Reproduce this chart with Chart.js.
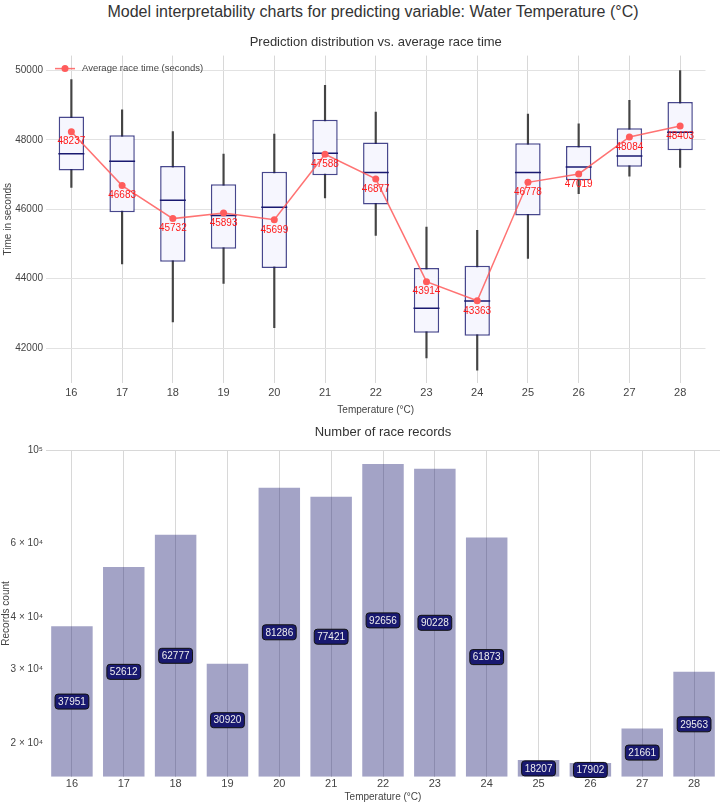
<!DOCTYPE html>
<html><head><meta charset="utf-8">
<script src="https://cdn.jsdelivr.net/npm/chart.js@4.4.1/dist/chart.umd.min.js"></script>
<style>
html,body{margin:0;padding:0;background:#fff;width:720px;height:803px;overflow:hidden;font-family:"Liberation Sans",Arial,sans-serif}
#title{position:absolute;left:0;top:2px;width:746px;text-align:center;font-size:16px;color:#333;line-height:20px}
#c1wrap{position:absolute;left:0;top:22px;width:720px;height:394px}
#c2wrap{position:absolute;left:0;top:410px;width:720px;height:393px}
</style></head><body>
<div id="title">Model interpretability charts for predicting variable: Water Temperature (°C)</div>
<div id="c1wrap"><canvas id="c1"></canvas></div>
<div id="c2wrap"><canvas id="c2"></canvas></div>
<script>
const categories = ['16','17','18','19','20','21','22','23','24','25','26','27','28'];
const whiskerLow  = [46628,44425,42752,43863,42588,46327,45246,41717,41361,44588,46454,46956,47208];
const q1          = [47121,45912,44492,44860,44309,46985,46136,42442,42355,45825,46840,47226,47701];
const median      = [47603,47382,46260,45825,46057,47614,47063,43149,43361,47063,47217,47536,48223];
const q3          = [48675,48135,47246,46724,47081,48580,47922,44309,44376,47904,47826,48339,49093];
const whiskerHigh = [49739,48869,48241,47594,48165,49575,48802,45486,45391,48745,48464,49140,50000];
const meanTime    = [48237,46683,45732,45893,45699,47588,46877,43914,43363,46778,47019,48084,48403];
const recordCounts = [37951,52612,62777,30920,81286,77421,92656,90228,61873,18207,17902,21661,29563];
const timeTicks = [42000,44000,46000,48000,50000];
const countTicks = [20000,30000,40000,60000,100000];
const countTickLabels = ['2 × 10⁴','3 × 10⁴','4 × 10⁴','6 × 10⁴','10⁵'];

const FONT = "'Liberation Sans', Arial, sans-serif";
Chart.defaults.font.family = FONT;
Chart.defaults.color = '#444';

const meanLabelPlugin = {
  id:'meanLabels',
  afterDatasetsDraw(chart){
    const idx = chart.data.datasets.findIndex(d=>d.label==='Average race time (seconds)');
    const meta = chart.getDatasetMeta(idx);
    const ctx = chart.ctx;
    ctx.save();
    ctx.font = '10px ' + FONT;
    ctx.fillStyle = '#ff1a1a';
    ctx.textAlign = 'center';
    ctx.textBaseline = 'middle';
    meta.data.forEach((pt,i)=>{
      ctx.fillText(String(chart.data.datasets[idx].data[i]), pt.x, pt.y + 10);
    });
    ctx.restore();
  },
  afterDraw(chart){
    const ca = chart.chartArea, ctx = chart.ctx;
    const y = ca.top + 13, x0 = ca.left + 9;
    ctx.save();
    ctx.strokeStyle = 'rgba(255,90,90,0.85)';
    ctx.lineWidth = 1.5;
    ctx.beginPath(); ctx.moveTo(x0, y); ctx.lineTo(x0 + 20, y); ctx.stroke();
    ctx.fillStyle = '#ff5c5c';
    ctx.beginPath(); ctx.arc(x0 + 10, y, 3.5, 0, Math.PI*2); ctx.fill();
    ctx.fillStyle = '#444';
    ctx.font = '9.5px ' + FONT;
    ctx.textBaseline = 'middle';
    ctx.fillText('Average race time (seconds)', x0 + 27, y);
    ctx.restore();
  }
};

const barLabelPlugin = {
  id:'barLabels',
  afterDatasetsDraw(chart){
    const meta = chart.getDatasetMeta(0);
    const ctx = chart.ctx;
    ctx.save();
    ctx.font = '10px ' + FONT;
    ctx.textAlign = 'center';
    ctx.textBaseline = 'middle';
    meta.data.forEach((bar,i)=>{
      const txt = String(chart.data.datasets[0].data[i]);
      const cx = bar.x, cy = (bar.y + bar.base)/2;
      const w = ctx.measureText(txt).width + 6, h = 15;
      ctx.beginPath();
      ctx.roundRect(cx - w/2, cy - h/2, w, h, 3);
      ctx.fillStyle = '#191970';
      ctx.fill();
      ctx.strokeStyle = '#111';
      ctx.lineWidth = 1;
      ctx.stroke();
      ctx.fillStyle = '#eeeeee';
      ctx.fillText(txt, cx, cy + 0.5);
    });
    ctx.restore();
  }
};

new Chart(document.getElementById('c1'), {
  type:'bar',
  data:{
    labels:categories,
    datasets:[
      {type:'bar', label:'whisker', data:categories.map((_,i)=>[whiskerLow[i], whiskerHigh[i]]),
        backgroundColor:'#444', barThickness:1.5, grouped:false, order:4},
      {type:'bar', label:'box', data:categories.map((_,i)=>[q1[i], q3[i]]),
        backgroundColor:'#f6f6fe', borderColor:'rgba(25,25,112,0.8)', borderWidth:1.5, borderSkipped:false,
        barPercentage:0.5, categoryPercentage:1, grouped:false, order:3},
      {type:'line', label:'median', data:median, showLine:false, pointStyle:'line', pointRadius:13,
        pointBorderColor:'#191970', pointBorderWidth:1.5, order:2},
      {type:'line', label:'Average race time (seconds)', data:meanTime, borderColor:'rgba(255,90,90,0.85)',
        borderWidth:1.5, pointRadius:3.5, pointBackgroundColor:'#ff5c5c', pointBorderColor:'#ff5c5c', pointBorderWidth:0, order:1}
    ]
  },
  options:{
    responsive:true, maintainAspectRatio:false, animation:false,
    layout:{padding:0},
    plugins:{
      legend:{display:false}, tooltip:{enabled:false},
      title:{display:true, text:'Prediction distribution vs. average race time', fullSize:false,
        font:{size:13, weight:'normal'}, color:'#333', padding:{top:13, bottom:5}}
    },
    scales:{
      x:{offset:true, grid:{offset:false, color:'#d8d8d8', drawTicks:false}, border:{display:false},
        ticks:{padding:4, font:{size:11}, color:'#444'},
        title:{display:true, text:'Temperature (°C)', font:{size:10}, color:'#444', padding:{top:0, bottom:0}}},
      y:{min:41000, max:50430,
        afterBuildTicks:s=>{ s.ticks = timeTicks.map(v=>({value:v})); },
        afterFit:s=>{ s.width = 46; },
        grid:{color:'#e2e2e2', drawTicks:false}, border:{display:false},
        ticks:{padding:3, font:{size:10}, color:'#444', callback:v=>String(v)},
        title:{display:true, text:'Time in seconds', font:{size:10}, color:'#444', padding:{top:2, bottom:0}}}
    }
  },
  plugins:[meanLabelPlugin]
});

new Chart(document.getElementById('c2'), {
  type:'bar',
  data:{
    labels:categories,
    datasets:[{label:'Records count', data:recordCounts, backgroundColor:'rgba(25,25,112,0.4)',
      barPercentage:0.8, categoryPercentage:1}]
  },
  options:{
    responsive:true, maintainAspectRatio:false, animation:false,
    layout:{padding:0},
    plugins:{
      legend:{display:false}, tooltip:{enabled:false},
      title:{display:true, text:'Number of race records', fullSize:false,
        font:{size:13, weight:'normal'}, color:'#333', padding:{top:15, bottom:9.5}}
    },
    scales:{
      x:{offset:true, grid:{offset:false, color:'#d8d8d8', drawTicks:false}, border:{display:false},
        ticks:{padding:1, font:{size:11}, color:'#444'},
        title:{display:true, text:'Temperature (°C)', font:{size:10, lineHeight:1.1}, color:'#444', padding:{top:0, bottom:0}}},
      y:{type:'logarithmic', min:16600, max:100000,
        afterBuildTicks:s=>{ s.ticks = countTicks.map(v=>({value:v})); },
        afterFit:s=>{ s.width = 46; },
        grid:{color:ctx=> (ctx.tick && ctx.tick.value===100000) ? '#d8d8d8' : 'rgba(0,0,0,0)', drawTicks:false},
        border:{display:false},
        ticks:{padding:3, font:{size:10}, color:'#444', callback:(v,i)=>countTickLabels[i]},
        title:{display:true, text:'Records count', font:{size:10}, color:'#444', padding:{top:0, bottom:0}}}
    }
  },
  plugins:[barLabelPlugin]
});
</script>
</body></html>
